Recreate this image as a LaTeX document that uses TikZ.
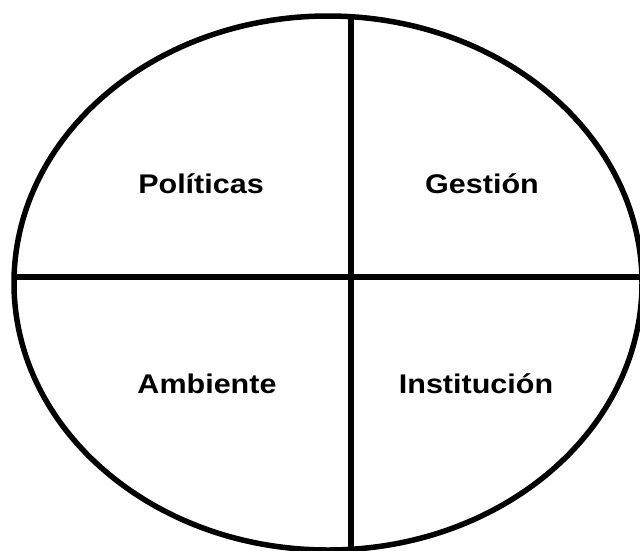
\documentclass[tikz,border=0pt]{standalone}
\usepackage{fontspec}
\setmainfont{Liberation Sans}
\usetikzlibrary{positioning}
\tikzstyle{quadrant}=[font=\fontsize{27}{31}\selectfont\bfseries, anchor=base, xscale=1.13, transform shape]
\tikzstyle{thickline}=[line width=5.5pt]

\begin{document}
\begin{tikzpicture}[x=1pt, y=-1pt]
        \useasboundingbox (0,0) rectangle (640,550);
        \clip (0,0) rectangle (640,550);

        % outline
        \draw[thickline] (328,283) ellipse (314 and 267);

        % cross
        \coordinate (west) at (15,277);
        \coordinate (east) at (646,277);
        \coordinate (north) at (351,15);
        \coordinate (south) at (351,560);
        \draw[thickline] (west) -- (east);
        \draw[thickline] (north) -- (south);

        % quadrants
        \node (politicas) [quadrant] at (201,193) {Políticas};
        \node (gestion) [quadrant] at (482,193) {Gestión};
        \node (ambiente) [quadrant] at (207,393) {Ambiente};
        \node (institucion) [quadrant] at (476,393) {Institución};
\end{tikzpicture}
\end{document}
